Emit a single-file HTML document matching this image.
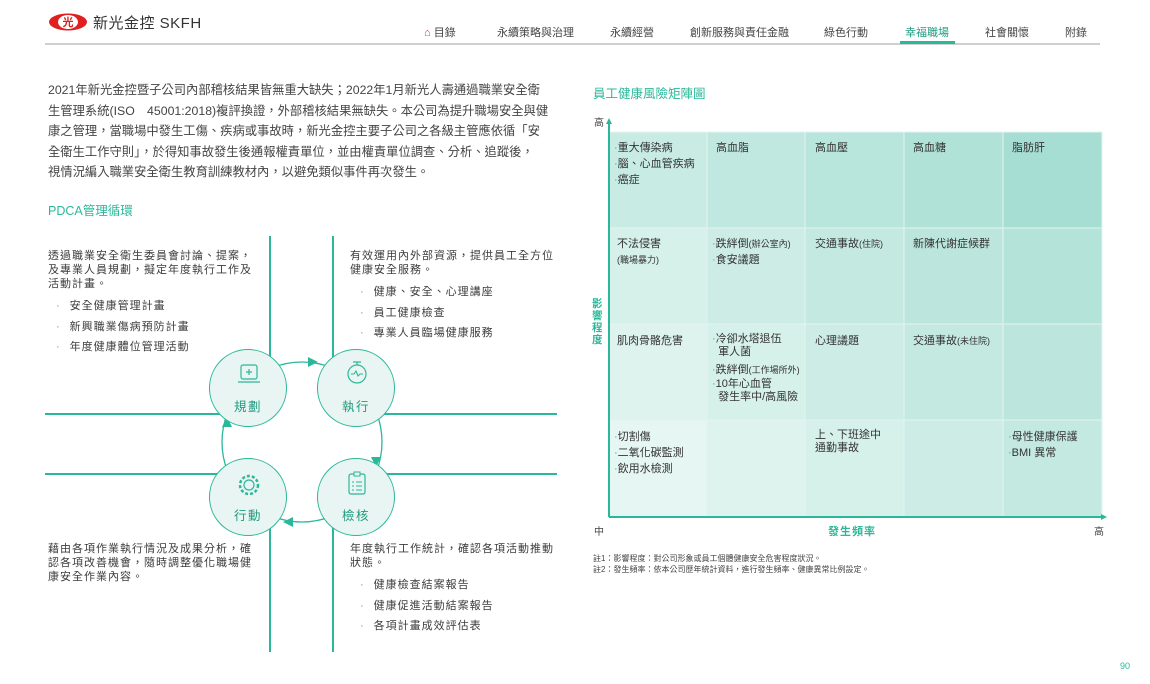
<!DOCTYPE html>
<html><head><meta charset="utf-8"><style>
*{margin:0;padding:0;box-sizing:border-box}
body{width:1150px;height:684px;background:#fff;position:relative;overflow:hidden;font-family:"Liberation Sans","Noto Sans CJK TC",sans-serif;color:#3a3a3a}
.a{position:absolute;white-space:nowrap}
.nav{top:24px;font-size:11px;color:#444}
.p{font-size:12.3px;letter-spacing:0px;line-height:20.5px;color:#444}
.b{font-size:11px;letter-spacing:1px;line-height:14px;color:#3c3c3c}
.li{font-size:11px;letter-spacing:1px;color:#3c3c3c}
.li:before{content:"·";color:#2bb89a;margin-right:9px}
.c{font-size:11px;line-height:16px;color:#333}
.c small{font-size:9px}
.d{color:#2bb89a}
.circ{position:absolute;width:78px;height:78px;border:1.5px solid #2bb89a;border-radius:50%;background:#e8f5f2;text-align:center}
.circ span{position:absolute;left:0;right:0;top:46px;font-size:12.5px;letter-spacing:1.5px;color:#1f9c80}
</style></head><body>
<svg class="a" style="left:48px;top:13px" width="40" height="18"><ellipse cx="20" cy="9" rx="19" ry="8.5" fill="#e02020"/><ellipse cx="20" cy="9" rx="10" ry="7" fill="#fff"/><text x="20" y="13" font-size="11" text-anchor="middle" fill="#e02020" font-weight="bold" font-family="Noto Sans CJK TC">光</text></svg>
<div class="a" style="left:93px;top:12px;font-size:15px;color:#333;letter-spacing:0.5px">新光金控 SKFH</div>
<div class="a nav" style="left:424px"><span style="color:#e03030">⌂</span> 目錄</div>
<div class="a nav" style="left:497px">永續策略與治理</div>
<div class="a nav" style="left:610px">永續經營</div>
<div class="a nav" style="left:690px">創新服務與責任金融</div>
<div class="a nav" style="left:824px">綠色行動</div>
<div class="a nav" style="left:905px;color:#1f9c80">幸福職場</div>
<div class="a nav" style="left:985px">社會關懷</div>
<div class="a nav" style="left:1065px">附錄</div>
<div class="a" style="left:45px;top:43px;width:1055px;height:2px;background:#cfcfcf"></div>
<div class="a" style="left:900px;top:41px;width:55px;height:3px;background:#2bb89a"></div>

<div class="a p" style="left:48px;top:80px">2021年新光金控暨子公司內部稽核結果皆無重大缺失；2022年1月新光人壽通過職業安全衛<br>生管理系統(ISO　45001:2018)複評換證，外部稽核結果無缺失。本公司為提升職場安全與健<br>康之管理，當職場中發生工傷、疾病或事故時，新光金控主要子公司之各級主管應依循「安<br>全衛生工作守則」，於得知事故發生後通報權責單位，並由權責單位調查、分析、追蹤後，<br>視情況編入職業安全衛生教育訓練教材內，以避免類似事件再次發生。</div>
<div class="a d" style="left:48px;top:200px;font-size:12.5px">PDCA管理循環</div>

<div class="a" style="left:269px;top:236px;width:1.5px;height:416px;background:#2bb89a"></div>
<div class="a" style="left:332px;top:236px;width:1.5px;height:416px;background:#2bb89a"></div>
<div class="a" style="left:45px;top:413px;width:512px;height:1.5px;background:#2bb89a"></div>
<div class="a" style="left:45px;top:473px;width:512px;height:1.5px;background:#2bb89a"></div>
<div class="a" style="left:220px;top:375px;width:162px;height:140px;background:#fff"></div>
<svg class="a" style="left:200px;top:340px" width="210" height="200">
<circle cx="102" cy="102" r="80" fill="none" stroke="#2bb89a" stroke-width="1.3"/>
<polygon points="118,22 108,17 108,27" fill="#2bb89a"/>
<polygon points="176,127 171,117 181,117" fill="#2bb89a"/>
<polygon points="83,182 93,177 93,187" fill="#2bb89a"/>
<polygon points="27,77 22,87 32,87" fill="#2bb89a"/>
</svg>
<div class="circ" style="left:209px;top:349px"><svg width="78" height="46"><rect x="31" y="15" width="16" height="14" rx="2" fill="none" stroke="#2bb89a" stroke-width="1.2"/><path d="M28 32h22" stroke="#2bb89a" stroke-width="1.2"/><path d="M39 19v6M36 22h6" stroke="#2bb89a" stroke-width="1.2"/></svg><span>規劃</span></div>
<div class="circ" style="left:317px;top:349px"><svg width="78" height="46"><circle cx="39" cy="24" r="9" fill="none" stroke="#2bb89a" stroke-width="1.2"/><path d="M33 24h3l2-3 2 5 2-2h3" fill="none" stroke="#2bb89a" stroke-width="1.1"/><path d="M39 15v-3M35 12h8" stroke="#2bb89a" stroke-width="1.2"/></svg><span>執行</span></div>
<div class="circ" style="left:209px;top:458px"><svg width="78" height="46"><circle cx="39" cy="26" r="9" fill="none" stroke="#2bb89a" stroke-width="2.5" stroke-dasharray="3 2"/><circle cx="39" cy="26" r="5" fill="none" stroke="#2bb89a" stroke-width="1.2"/></svg><span>行動</span></div>
<div class="circ" style="left:317px;top:458px"><svg width="78" height="46"><rect x="31" y="15" width="16" height="20" rx="2" fill="none" stroke="#2bb89a" stroke-width="1.2"/><path d="M34 23h2M38 23h6M34 27h2M38 27h6M34 31h2M38 31h6" stroke="#2bb89a" stroke-width="1.1"/><rect x="36" y="13" width="6" height="4" fill="#e8f5f2" stroke="#2bb89a" stroke-width="1"/></svg><span>檢核</span></div>

<div class="a b" style="left:48px;top:249px">透過職業安全衛生委員會討論、提案，<br>及專業人員規劃，擬定年度執行工作及<br>活動計畫。</div>
<div class="a li" style="left:56px;top:297px">安全健康管理計畫</div>
<div class="a li" style="left:56px;top:318px">新興職業傷病預防計畫</div>
<div class="a li" style="left:56px;top:338px">年度健康體位管理活動</div>

<div class="a b" style="left:350px;top:249px">有效運用內外部資源，提供員工全方位<br>健康安全服務。</div>
<div class="a li" style="left:360px;top:283px">健康、安全、心理講座</div>
<div class="a li" style="left:360px;top:304px">員工健康檢查</div>
<div class="a li" style="left:360px;top:324px">專業人員臨場健康服務</div>

<div class="a b" style="left:48px;top:542px">藉由各項作業執行情況及成果分析，確<br>認各項改善機會，隨時調整優化職場健<br>康安全作業內容。</div>
<div class="a b" style="left:350px;top:542px">年度執行工作統計，確認各項活動推動<br>狀態。</div>
<div class="a li" style="left:360px;top:576px">健康檢查結案報告</div>
<div class="a li" style="left:360px;top:597px">健康促進活動結案報告</div>
<div class="a li" style="left:360px;top:617px">各項計畫成效評估表</div>

<div class="a d" style="left:593px;top:83px;font-size:12.5px">員工健康風險矩陣圖</div>
<div class="a" style="left:594px;top:114px;font-size:10px;color:#444">高</div>
<svg class="a" style="left:600px;top:118px" width="510" height="405">
<g stroke="#e3f4f0" stroke-width="1">
<rect x="9" y="14" width="98" height="96" fill="#c8ebe4"/>
<rect x="107" y="14" width="98" height="96" fill="#c0e8e0"/>
<rect x="205" y="14" width="99" height="96" fill="#b8e5dc"/>
<rect x="304" y="14" width="99" height="96" fill="#b0e2d8"/>
<rect x="403" y="14" width="99" height="96" fill="#a6ded3"/>
<rect x="9" y="110" width="98" height="96" fill="#d6f0ea"/>
<rect x="107" y="110" width="98" height="96" fill="#cdece6"/>
<rect x="205" y="110" width="99" height="96" fill="#c4e9e1"/>
<rect x="304" y="110" width="99" height="96" fill="#bce6dd"/>
<rect x="403" y="110" width="99" height="96" fill="#b3e3d9"/>
<rect x="9" y="206" width="98" height="96" fill="#def3ee"/>
<rect x="107" y="206" width="98" height="96" fill="#d6f0ea"/>
<rect x="205" y="206" width="99" height="96" fill="#cdece6"/>
<rect x="304" y="206" width="99" height="96" fill="#c4e9e1"/>
<rect x="403" y="206" width="99" height="96" fill="#bce6dd"/>
<rect x="9" y="302" width="98" height="97" fill="#e6f6f2"/>
<rect x="107" y="302" width="98" height="97" fill="#def3ee"/>
<rect x="205" y="302" width="99" height="97" fill="#d6f0ea"/>
<rect x="304" y="302" width="99" height="97" fill="#cdece6"/>
<rect x="403" y="302" width="99" height="97" fill="#c4e9e1"/>
</g>
<path d="M9 399V4M9 399H503" stroke="#2bb89a" stroke-width="2" fill="none"/>
<polygon points="9,0 6,6 12,6" fill="#2bb89a"/>
<polygon points="507,399 501,396 501,402" fill="#2bb89a"/>
</svg>
<div class="a" style="left:592px;top:298px;width:12px;font-size:10.5px;line-height:12px;color:#2bb89a;font-weight:bold;white-space:normal">影響程度</div>
<div class="a" style="left:594px;top:523px;font-size:10px;color:#444">中</div>
<div class="a" style="left:1094px;top:523px;font-size:10px;color:#444">高</div>
<div class="a" style="left:828px;top:523px;font-size:11px;color:#2bb89a;font-weight:bold;letter-spacing:1px">發生頻率</div>

<div class="a c" style="left:614px;top:140px"><span class="d">·</span>重大傳染病<br><span class="d">·</span>腦、心血管疾病<br><span class="d">·</span>癌症</div>
<div class="a c" style="left:716px;top:140px">高血脂</div>
<div class="a c" style="left:815px;top:140px">高血壓</div>
<div class="a c" style="left:913px;top:140px">高血糖</div>
<div class="a c" style="left:1012px;top:140px">脂肪肝</div>
<div class="a c" style="left:617px;top:236px">不法侵害<br><small>(職場暴力)</small></div>
<div class="a c" style="left:712px;top:236px"><span class="d">·</span>跌絆倒<small>(辦公室內)</small><br><span class="d">·</span>食安議題</div>
<div class="a c" style="left:815px;top:236px">交通事故<small>(住院)</small></div>
<div class="a c" style="left:913px;top:236px">新陳代謝症候群</div>
<div class="a c" style="left:617px;top:333px">肌肉骨骼危害</div>
<div class="a c" style="left:712px;top:333px;line-height:13px"><span class="d">·</span>冷卻水塔退伍<br>&nbsp;&nbsp;軍人菌</div>
<div class="a c" style="left:712px;top:362px"><span class="d">·</span>跌絆倒<small>(工作場所外)</small></div>
<div class="a c" style="left:712px;top:378px;line-height:13px"><span class="d">·</span>10年心血管<br>&nbsp;&nbsp;發生率中/高風險</div>
<div class="a c" style="left:815px;top:333px">心理議題</div>
<div class="a c" style="left:913px;top:333px">交通事故<small>(未住院)</small></div>
<div class="a c" style="left:614px;top:429px"><span class="d">·</span>切割傷<br><span class="d">·</span>二氧化碳監測<br><span class="d">·</span>飲用水檢測</div>
<div class="a c" style="left:815px;top:429px;line-height:13px">上、下班途中<br>通勤事故</div>
<div class="a c" style="left:1008px;top:429px"><span class="d">·</span>母性健康保護<br><span class="d">·</span>BMI 異常</div>

<div class="a" style="left:593px;top:553px;font-size:8px;line-height:11px;color:#444">註1：影響程度：對公司形象或員工個體健康安全危害程度狀況。<br>註2：發生頻率：依本公司歷年統計資料，進行發生頻率、健康異常比例設定。</div>
<div class="a" style="left:1120px;top:661px;font-size:9px;color:#2bb89a">90</div>
</body></html>
